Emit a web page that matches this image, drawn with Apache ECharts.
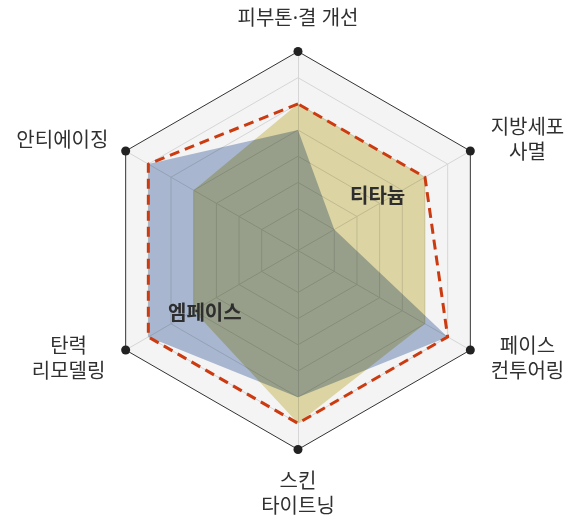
<!DOCTYPE html>
<html>
<head>
<meta charset="utf-8">
<script src="https://cdn.jsdelivr.net/npm/echarts@6/dist/echarts.min.js"></script>
<style>
html,body{margin:0;padding:0;background:#fff;}
#chart{width:580px;height:525px;}
</style>
</head>
<body>
<div id="chart"></div>
<script>
// Indicators (ECharts radar places them counter-clockwise from the top)
const indicatorNames = ['피부톤·결 개선', '안티에이징', '탄력\n리모델링', '스킨\n타이트닝', '페이스\n컨투어링', '지방세포\n사멸'];
const indicatorSide = ['top', 'left', 'left', 'bottom', 'right', 'right'];
// Series values (ring scale: rings at 10..70)
const titaniumValues = [50, 40, 40, 60, 50, 50];
const empaceValues   = [40, 60, 60, 50, 60, 10];
const combinedValues = [50, 60, 60, 60, 60, 50];
const frameValues    = [70, 70, 70, 70, 70, 70];
const seriesNames = ['티타늄', '엠페이스'];
const scaleMin = -6, scaleMax = 70, ringStep = 10, tickStep = 2;

const splitCount = (scaleMax - scaleMin) / tickStep;
const ringColors = [];
for (let i = 0; i <= splitCount; i++) {
  const v = scaleMin + i * tickStep;
  ringColors.push(v > 0 && v < scaleMax && v % ringStep === 0 ? '#d6d6d6' : 'rgba(0,0,0,0)');
}

const FONT = '"Noto Sans", "Noto Sans CJK KR", sans-serif';
const NAME_SIZE = 20, NAME_LH = 25, NAME_COLOR = '#303030';
const chart = echarts.init(document.getElementById('chart'), null, {renderer: 'canvas'});

chart.setOption({
  animation: false,
  backgroundColor: '#ffffff',
  radar: {
    center: [298, 250.5],
    radius: 199,
    startAngle: 90,
    shape: 'polygon',
    splitNumber: splitCount,
    indicator: indicatorNames.map(n => ({name: n, min: scaleMin, max: scaleMax})),
    nameGap: 20,
    axisName: {
      color: NAME_COLOR,
      fontSize: NAME_SIZE,
      fontFamily: FONT,
      lineHeight: NAME_LH,
      formatter: function (name) {
        const idx = indicatorNames.indexOf(name);
        const side = indicatorSide[idx];
        if (name.indexOf('\n') < 0) return name;
        const key = side === 'left' ? 'cl' : (side === 'right' ? 'cr' : 'cc');
        return name.split('\n').map(s => '{' + key + '|' + s + '}').join('\n');
      },
      rich: {
        cl: {align: 'center', fontSize: NAME_SIZE, lineHeight: NAME_LH, color: NAME_COLOR, fontFamily: FONT, padding: [0, 3, 0, 0]},
        cr: {align: 'center', fontSize: NAME_SIZE, lineHeight: NAME_LH, color: NAME_COLOR, fontFamily: FONT, padding: [0, 0, 0, 3]},
        cc: {align: 'center', fontSize: NAME_SIZE, lineHeight: NAME_LH, color: NAME_COLOR, fontFamily: FONT}
      }
    },
    axisLine: {show: true, lineStyle: {color: '#d6d6d6', width: 1}},
    axisTick: {show: false},
    axisLabel: {show: false},
    splitLine: {show: true, lineStyle: {color: ringColors, width: 1}},
    splitArea: {show: false}
  },
  graphic: [
    {type: 'text', left: 350, top: 187, z: 100, style: {text: seriesNames[0], font: 'bold 20px ' + FONT, fill: '#2e2e2e'}},
    {type: 'text', left: 168, top: 304, z: 100, style: {text: seriesNames[1], font: 'bold 20px ' + FONT, fill: '#2e2e2e'}}
  ],
  series: [
    {
      type: 'radar', z: -1, silent: true, symbol: 'none',
      lineStyle: {width: 0, opacity: 0},
      areaStyle: {color: '#f4f4f4', opacity: 1},
      data: [{value: frameValues, name: 'bg'}]
    },
    {
      type: 'radar', z: 2, silent: true, symbol: 'none', blendMode: 'multiply',
      lineStyle: {width: 0, opacity: 0},
      areaStyle: {color: '#b0c0d9', opacity: 1},
      data: [{value: empaceValues, name: seriesNames[1]}]
    },
    {
      type: 'radar', z: 2, silent: true, symbol: 'none', blendMode: 'multiply',
      lineStyle: {width: 0, opacity: 0},
      areaStyle: {color: '#e6deaa', opacity: 1},
      data: [{value: titaniumValues, name: seriesNames[0]}]
    },
    {
      type: 'radar', z: 4, silent: true, symbol: 'none',
      lineStyle: {color: '#cc3a10', width: 3, type: [10, 6]},
      data: [{value: combinedValues, name: 'combined'}]
    },
    {
      type: 'radar', z: 5, silent: true, symbol: 'circle', symbolSize: 9,
      itemStyle: {color: '#222'},
      lineStyle: {color: '#333', width: 1},
      data: [{value: frameValues, name: 'frame'}]
    }
  ]
});
</script>
</body>
</html>
